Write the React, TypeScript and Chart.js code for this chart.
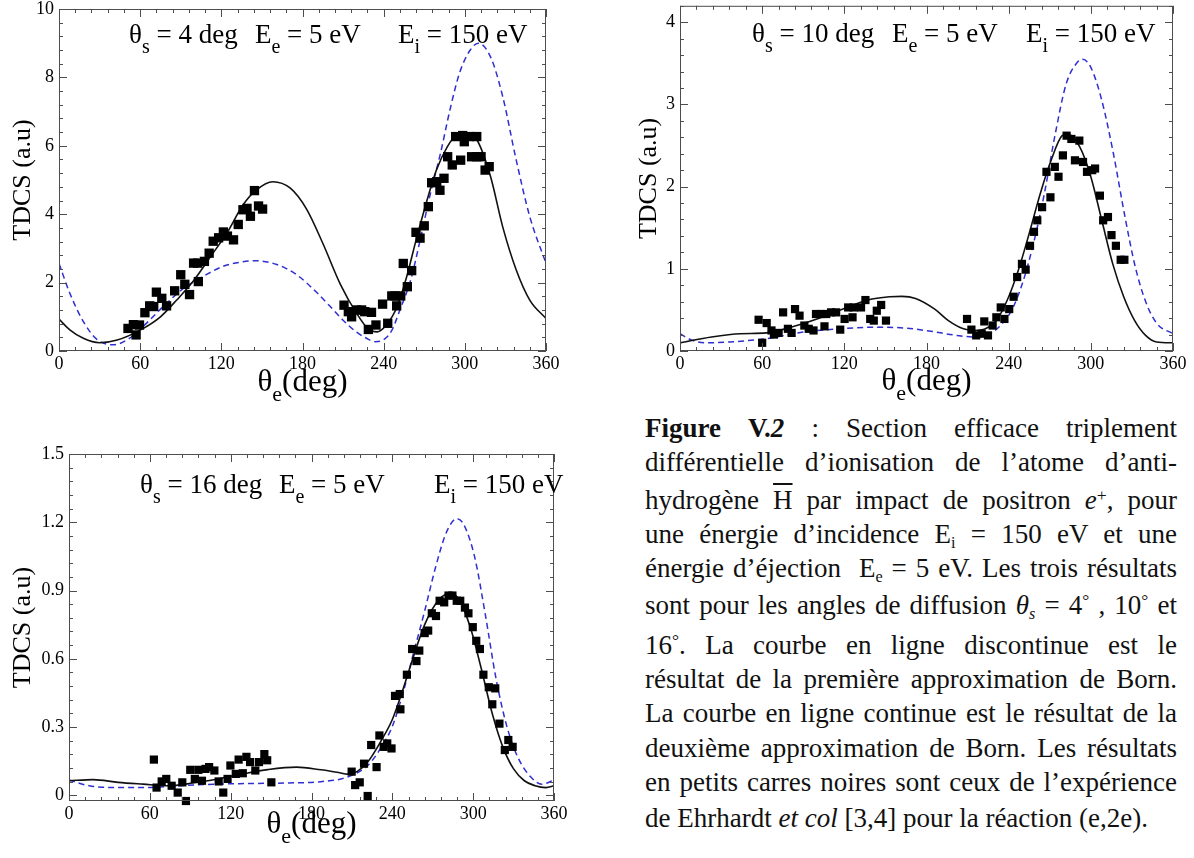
import React, { useEffect, useRef } from 'react';
import { Chart, registerables } from 'chart.js';

Chart.register(...registerables);

// ---------------- DATA ----------------
const X_TICKS = [0, 60, 120, 180, 240, 300, 360];

// Panel 1 : theta_s = 4 deg
const P1_Y_TICKS = [0, 2, 4, 6, 8, 10];
const P1_FBA_THETA = [0, 8, 18, 28, 40, 52, 62, 77, 92, 107, 121, 136, 145, 161, 176, 190, 200, 210, 220, 227, 234, 240, 246, 252, 260, 267, 274, 282, 289, 296, 304, 310, 319, 328, 338, 348, 360];
const P1_FBA_TDCS = [2.56, 1.69, 0.86, 0.34, 0.18, 0.37, 0.71, 1.3, 1.83, 2.19, 2.47, 2.61, 2.64, 2.53, 2.22, 1.73, 1.32, 0.9, 0.55, 0.38, 0.27, 0.33, 0.6, 1.2, 2.08, 3.25, 4.51, 5.78, 7.05, 8.12, 8.8, 9.0, 8.6, 7.44, 5.58, 3.93, 2.56];
const P1_SBA_THETA = [0, 8, 18, 30, 43, 60, 75, 87, 99, 112, 124, 136, 146, 158, 171, 183, 195, 208, 220, 228, 235, 242, 250, 257, 264, 272, 279, 287, 294, 301, 309, 319, 328, 338, 348, 360];
const P1_SBA_TDCS = [0.93, 0.62, 0.37, 0.24, 0.32, 0.61, 1.0, 1.49, 2.03, 2.76, 3.44, 4.27, 4.71, 4.95, 4.76, 4.15, 3.15, 1.95, 1.1, 0.67, 0.56, 0.76, 1.3, 2.17, 3.25, 4.4, 5.29, 5.97, 6.32, 6.38, 6.17, 5.1, 3.63, 2.37, 1.49, 0.95];
const P1_EXP_THETA = [51, 55, 57, 59.5, 63.5, 67, 70, 72, 76, 79.5, 85.5, 90, 93, 96.5, 99.5, 102.5, 103, 107.5, 111, 114, 118, 121.5, 124.5, 129, 132.5, 136, 139, 141.5, 144.5, 147.5, 150.5, 210.7, 213.9, 216.3, 220, 223.7, 226, 231, 228.7, 234.3, 239.2, 243, 246, 248.4, 252.6, 249.6, 254.5, 257.5, 260.7, 263.9, 266.9, 270, 273, 275.5, 279.2, 281.6, 284.6, 287.3, 290.7, 293.2, 296.9, 298.4, 299.6, 303.3, 305, 308.8, 308.8, 312, 315, 318];
const P1_EXP_TDCS = [0.66, 0.77, 0.47, 0.76, 1.12, 1.32, 1.3, 1.72, 1.54, 1.32, 1.76, 2.23, 1.95, 1.65, 2.57, 2.57, 2.03, 2.62, 2.86, 3.21, 3.31, 3.48, 3.36, 3.25, 3.7, 4.13, 4.17, 3.94, 4.69, 4.24, 4.15, 1.34, 1.15, 1.0, 1.2, 1.2, 1.15, 1.13, 0.63, 0.76, 1.37, 0.81, 1.61, 1.61, 1.61, 1.32, 2.56, 1.88, 2.35, 3.47, 3.3, 3.66, 4.22, 4.92, 4.95, 4.7, 5.05, 5.68, 5.44, 6.27, 5.58, 6.3, 6.12, 6.27, 5.68, 6.27, 5.68, 5.68, 5.29, 5.39];

// Panel 2 : theta_s = 10 deg
const P2_Y_TICKS = [0, 1, 2, 3, 4];
const P2_FBA_THETA = [0, 9, 20, 36, 63, 90, 116, 143, 164, 183, 202, 215, 226, 234, 242, 250, 258, 266, 274, 282, 290, 294, 300, 308, 316.5, 324.5, 332.5, 340.5, 348.5, 360];
const P2_FBA_TDCS = [0.21, 0.13, 0.1, 0.11, 0.15, 0.23, 0.27, 0.29, 0.28, 0.24, 0.19, 0.17, 0.21, 0.31, 0.49, 0.82, 1.3, 1.91, 2.64, 3.25, 3.51, 3.55, 3.45, 3.05, 2.4, 1.67, 1.02, 0.58, 0.33, 0.21];
const P2_SBA_THETA = [0, 23, 44, 63, 81, 100, 119, 137, 153, 162, 172, 186, 196, 207, 215, 223, 231, 239, 247, 255, 263, 271, 279, 283, 292, 300, 308, 316, 324, 332, 340, 348, 360];
const P2_SBA_TDCS = [0.1, 0.17, 0.21, 0.22, 0.29, 0.39, 0.51, 0.62, 0.66, 0.665, 0.64, 0.51, 0.37, 0.27, 0.25, 0.27, 0.37, 0.62, 0.98, 1.43, 1.91, 2.32, 2.62, 2.64, 2.48, 2.12, 1.59, 1.06, 0.66, 0.37, 0.19, 0.11, 0.1];
const P2_EXP_THETA = [57.4, 60, 63.3, 66.8, 68.6, 72, 75.3, 78.8, 81.5, 84, 87.3, 90.8, 94, 97.5, 99.3, 102.8, 105.5, 106.8, 110.3, 114, 117, 120.2, 122.8, 126, 126.9, 132.2, 135.4, 138.9, 141.5, 143.7, 146.9, 150.4, 209.6, 212.8, 216.3, 220.3, 222.2, 224.9, 228.3, 231, 234.2, 236.9, 240.4, 243.6, 246.2, 249.7, 252.4, 255.6, 258.5, 260.9, 264.4, 267.6, 270.5, 273.7, 276.4, 279.6, 282.3, 285.8, 288.4, 291.6, 294.3, 297.2, 301, 303.1, 306.6, 309, 312.5, 315.1, 318.3, 321.8, 324.5];
const P2_EXP_TDCS = [0.38, 0.1, 0.34, 0.25, 0.2, 0.22, 0.47, 0.27, 0.22, 0.51, 0.43, 0.31, 0.27, 0.25, 0.45, 0.45, 0.3, 0.45, 0.47, 0.47, 0.26, 0.39, 0.53, 0.41, 0.53, 0.53, 0.62, 0.39, 0.37, 0.49, 0.56, 0.37, 0.39, 0.26, 0.19, 0.21, 0.36, 0.19, 0.31, 0.41, 0.53, 0.39, 0.51, 0.66, 0.9, 1.06, 0.99, 1.28, 1.45, 1.59, 1.75, 2.18, 1.87, 2.24, 2.12, 2.38, 2.62, 2.58, 2.32, 2.56, 2.3, 2.18, 2.2, 2.22, 1.89, 1.59, 1.63, 1.41, 1.28, 1.11, 1.11];

// Panel 3 : theta_s = 16 deg
const P3_Y_TICKS = [0, 0.3, 0.6, 0.9, 1.2, 1.5];
const P3_FBA_THETA = [0, 15, 34, 55, 81.5, 108, 134, 161, 187, 206, 221.7, 232, 240, 248, 256, 264, 272, 280, 288, 293, 301, 309, 317, 325, 333, 343, 351, 360];
const P3_FBA_TDCS = [0.067, 0.042, 0.034, 0.034, 0.042, 0.049, 0.052, 0.054, 0.06, 0.079, 0.131, 0.213, 0.303, 0.452, 0.631, 0.81, 1.0, 1.154, 1.216, 1.19, 1.05, 0.795, 0.512, 0.303, 0.169, 0.079, 0.049, 0.067];
const P3_SBA_THETA = [0, 18, 36.5, 55, 73.5, 92, 110.6, 129, 147.6, 168.8, 187, 200, 207, 214, 221.7, 232, 240, 248, 256, 264, 272, 280, 284, 290, 298, 306, 314, 322, 330, 338, 346, 354, 360];
const P3_SBA_TDCS = [0.064, 0.069, 0.057, 0.049, 0.042, 0.054, 0.072, 0.094, 0.113, 0.124, 0.112, 0.1, 0.093, 0.105, 0.146, 0.243, 0.333, 0.467, 0.616, 0.75, 0.84, 0.885, 0.888, 0.855, 0.736, 0.557, 0.363, 0.213, 0.116, 0.064, 0.042, 0.034, 0.042];
const P3_EXP_THETA = [63, 65, 68.8, 72.2, 76.2, 80.7, 84.1, 86.8, 90, 93.4, 96, 98.7, 101.3, 104, 107.9, 111.1, 114.5, 117.7, 119.8, 123.8, 125.9, 129, 131.7, 134.4, 138.3, 141, 145, 147.1, 150.2, 209.8, 212.4, 215.8, 219, 221.7, 224.3, 228.3, 230.4, 233.6, 236.2, 239.4, 242, 245.5, 246, 250.8, 254.7, 257.9, 260, 264, 266.6, 269.3, 272.4, 275.1, 278.5, 281.7, 284.6, 287.8, 290.4, 293.9, 296.5, 299.7, 302.3, 305, 307.6, 311.6, 316.4, 314.2, 319.5, 323.5, 326.1, 329.3];
const P3_EXP_TDCS = [0.157, 0.034, 0.061, 0.072, 0.042, 0.012, 0.057, -0.025, 0.112, 0.072, 0.112, 0.064, 0.116, 0.124, 0.109, 0.061, 0.012, 0.072, 0.131, 0.094, 0.157, 0.097, 0.169, 0.146, 0.109, 0.146, 0.181, 0.154, 0.057, 0.104, 0.045, 0.057, 0.139, -0.003, 0.221, 0.124, 0.263, 0.213, 0.228, 0.206, 0.437, 0.445, 0.378, 0.53, 0.643, 0.59, 0.636, 0.713, 0.724, 0.8, 0.788, 0.855, 0.848, 0.878, 0.878, 0.855, 0.855, 0.825, 0.8, 0.739, 0.679, 0.643, 0.53, 0.475, 0.47, 0.4, 0.315, 0.199, 0.243, 0.213];

// ---------------- STYLE / LAYOUT ----------------
const SERIF = '"Liberation Serif"';
const BLUE = '#2f2fd2';

type Part = { t: string; sub?: boolean };

const pts = (xs: number[], ys: number[]) => xs.map((x, i) => ({ x, y: ys[i] }));

function richWidth(ctx: CanvasRenderingContext2D, parts: Part[], size: number, subSize: number) {
  let w = 0;
  for (const p of parts) {
    ctx.font = `${p.sub ? subSize : size}px ${SERIF}`;
    w += ctx.measureText(p.t).width;
  }
  return w;
}

function drawRich(ctx: CanvasRenderingContext2D, x: number, y: number, parts: Part[], size: number, subSize: number, drop: number) {
  let cx = x;
  for (const p of parts) {
    ctx.font = `${p.sub ? subSize : size}px ${SERIF}`;
    ctx.fillText(p.t, cx, p.sub ? y + drop : y);
    cx += ctx.measureText(p.t).width;
  }
}

const X_TITLE: Part[] = [{ t: 'θ' }, { t: 'e', sub: true }, { t: '(deg)' }];
const Y_TITLE = 'TDCS (a.u)';

const decorPlugin = {
  id: 'decor',
  afterDraw(chart: any, _args: any, opts: any) {
    const ctx: CanvasRenderingContext2D = chart.ctx;
    const a = chart.chartArea;
    const xs = chart.scales.x;
    const ys = chart.scales.y;
    ctx.save();
    ctx.strokeStyle = '#4d4d4d';
    ctx.lineWidth = 1;
    ctx.beginPath();
    for (let i = 0; ; i++) {
      const v = i * opts.xMinor;
      if (v > xs.max + 1e-6) break;
      const px = Math.round(xs.getPixelForValue(v)) + 0.5;
      const r = v / opts.xMajor;
      const len = Math.abs(r - Math.round(r)) < 1e-6 ? 8 : 4;
      ctx.moveTo(px, a.bottom); ctx.lineTo(px, a.bottom - len);
      ctx.moveTo(px, a.top); ctx.lineTo(px, a.top + len);
    }
    const start = Math.ceil(ys.min / opts.yMinor - 1e-6);
    for (let i = start; ; i++) {
      const v = i * opts.yMinor;
      if (v > ys.max + 1e-6) break;
      const py = Math.round(ys.getPixelForValue(v)) + 0.5;
      const r = v / opts.yMajor;
      const len = Math.abs(r - Math.round(r)) < 1e-6 ? 8 : 4;
      ctx.moveTo(a.left, py); ctx.lineTo(a.left + len, py);
      ctx.moveTo(a.right, py); ctx.lineTo(a.right - len, py);
    }
    ctx.stroke();
    ctx.strokeRect(a.left + 0.5, a.top + 0.5, a.right - a.left - 1, a.bottom - a.top - 1);

    ctx.fillStyle = '#000';
    ctx.textAlign = 'left';
    ctx.textBaseline = 'alphabetic';
    for (const seg of opts.annotation) {
      drawRich(ctx, seg.x, opts.annotY, seg.parts, 27, 20, 10);
    }
    const w = richWidth(ctx, X_TITLE, 31, 22);
    drawRich(ctx, (a.left + a.right) / 2 - w / 2, opts.xTitleY, X_TITLE, 31, 22, 10);

    ctx.translate(opts.yTitleX, (a.top + a.bottom) / 2);
    ctx.rotate(-Math.PI / 2);
    ctx.font = `26px ${SERIF}`;
    ctx.textAlign = 'center';
    ctx.textBaseline = 'middle';
    ctx.fillText(Y_TITLE, 0, 0);
    ctx.restore();
  },
};

type PanelCfg = {
  box: { left: number; top: number; w: number; h: number };
  area: { left: number; right: number; top: number; bottom: number };
  yMin: number; yMax: number; yTicks: number[]; yMinor: number; yMajor: number;
  fba: { x: number; y: number }[];
  sba: { x: number; y: number }[];
  exp: { x: number; y: number }[];
  pointR: number;
  annotation: { x: number; parts: Part[] }[];
  annotY: number; xTitleY: number; yTitleX: number;
};

const PANELS: PanelCfg[] = [
  {
    box: { left: 0, top: 0, w: 600, h: 410 },
    area: { left: 59, right: 546, top: 9, bottom: 351 },
    yMin: 0, yMax: 10, yTicks: P1_Y_TICKS, yMinor: 0.4, yMajor: 2,
    fba: pts(P1_FBA_THETA, P1_FBA_TDCS), sba: pts(P1_SBA_THETA, P1_SBA_TDCS), exp: pts(P1_EXP_THETA, P1_EXP_TDCS),
    pointR: 6.6,
    annotation: [
      { x: 129, parts: [{ t: 'θ' }, { t: 's', sub: true }, { t: ' = 4 deg' }] },
      { x: 255, parts: [{ t: 'E' }, { t: 'e', sub: true }, { t: ' = 5 eV' }] },
      { x: 398, parts: [{ t: 'E' }, { t: 'i', sub: true }, { t: ' = 150 eV' }] },
    ],
    annotY: 43, xTitleY: 391, yTitleX: 23,
  },
  {
    box: { left: 620, top: 0, w: 574, h: 410 },
    area: { left: 60, right: 553, top: 5, bottom: 351 },
    yMin: 0, yMax: 4.2, yTicks: P2_Y_TICKS, yMinor: 0.2, yMajor: 1,
    fba: pts(P2_FBA_THETA, P2_FBA_TDCS), sba: pts(P2_SBA_THETA, P2_SBA_TDCS), exp: pts(P2_EXP_THETA, P2_EXP_TDCS),
    pointR: 5.8,
    annotation: [
      { x: 132, parts: [{ t: 'θ' }, { t: 's', sub: true }, { t: ' = 10 deg' }] },
      { x: 272, parts: [{ t: 'E' }, { t: 'e', sub: true }, { t: ' = 5 eV' }] },
      { x: 406, parts: [{ t: 'E' }, { t: 'i', sub: true }, { t: ' = 150 eV' }] },
    ],
    annotY: 42, xTitleY: 390, yTitleX: 29,
  },
  {
    box: { left: 0, top: 440, w: 600, h: 418 },
    area: { left: 69, right: 554, top: 14, bottom: 361 },
    yMin: -0.025, yMax: 1.5, yTicks: P3_Y_TICKS, yMinor: 0.06, yMajor: 0.3,
    fba: pts(P3_FBA_THETA, P3_FBA_TDCS), sba: pts(P3_SBA_THETA, P3_SBA_TDCS), exp: pts(P3_EXP_THETA, P3_EXP_TDCS),
    pointR: 5.8,
    annotation: [
      { x: 140, parts: [{ t: 'θ' }, { t: 's', sub: true }, { t: ' = 16 deg' }] },
      { x: 279, parts: [{ t: 'E' }, { t: 'e', sub: true }, { t: ' = 5 eV' }] },
      { x: 434, parts: [{ t: 'E' }, { t: 'i', sub: true }, { t: ' = 150 eV' }] },
    ],
    annotY: 53, xTitleY: 393, yTitleX: 23,
  },
];

function Panel({ cfg }: { cfg: PanelCfg }) {
  const ref = useRef<HTMLCanvasElement>(null);
  useEffect(() => {
    const { box, area } = cfg;
    const tickFont = { family: SERIF, size: 18 };
    const chart = new Chart(ref.current as HTMLCanvasElement, {
      type: 'line',
      data: {
        datasets: [
          {
            data: cfg.exp, showLine: false, pointStyle: 'rect', pointRadius: cfg.pointR,
            pointBackgroundColor: '#000', pointBorderColor: '#000', pointBorderWidth: 0,
            clip: false as any, order: 0,
          } as any,
          {
            data: cfg.sba, borderColor: '#111', borderWidth: 1.6, pointRadius: 0,
            cubicInterpolationMode: 'monotone', fill: false, order: 1,
          } as any,
          {
            data: cfg.fba, borderColor: BLUE, borderWidth: 1.5, borderDash: [6, 4], pointRadius: 0,
            cubicInterpolationMode: 'monotone', fill: false, order: 2,
          } as any,
        ],
      },
      options: {
        responsive: false,
        animation: false,
        devicePixelRatio: 1,
        events: [],
        layout: { padding: { left: 0, top: area.top, right: box.w - area.right, bottom: 0 } },
        plugins: {
          legend: { display: false },
          tooltip: { enabled: false },
          decor: {
            xMinor: 12, xMajor: 60, yMinor: cfg.yMinor, yMajor: cfg.yMajor,
            annotation: cfg.annotation, annotY: cfg.annotY, xTitleY: cfg.xTitleY, yTitleX: cfg.yTitleX,
          },
        } as any,
        scales: {
          x: {
            type: 'linear', min: 0, max: 360,
            grid: { display: false, drawTicks: false },
            border: { display: false },
            ticks: { font: tickFont, color: '#000', padding: 2, maxRotation: 0, autoSkip: false, callback: (v: any) => String(v) },
            afterBuildTicks: (s: any) => { s.ticks = X_TICKS.map((v) => ({ value: v })); },
            afterFit: (s: any) => { s.height = box.h - area.bottom; s.paddingLeft = 0; s.paddingRight = 0; },
          },
          y: {
            type: 'linear', min: cfg.yMin, max: cfg.yMax,
            grid: { display: false, drawTicks: false },
            border: { display: false },
            ticks: { font: tickFont, color: '#000', padding: 5, autoSkip: false, callback: (v: any) => String(v) },
            afterBuildTicks: (s: any) => { s.ticks = cfg.yTicks.map((v) => ({ value: v })); },
            afterFit: (s: any) => { s.width = area.left; s.paddingTop = 0; s.paddingBottom = 0; },
          },
        } as any,
      },
      plugins: [decorPlugin],
    });
    return () => chart.destroy();
  }, [cfg]);
  return (
    <canvas
      ref={ref}
      width={cfg.box.w}
      height={cfg.box.h}
      style={{ position: 'absolute', left: cfg.box.left, top: cfg.box.top, width: cfg.box.w, height: cfg.box.h }}
    />
  );
}

const subStyle: React.CSSProperties = { fontSize: '0.6em', position: 'relative', top: '0.3em', lineHeight: 0 };
const supStyle: React.CSSProperties = { fontSize: '0.65em', position: 'relative', top: '-0.45em', lineHeight: 0 };

const CAPTION_BASELINES = [438, 472, 510, 544, 578, 615, 655, 689, 723, 758, 792, 828];

function Caption() {
  const size = 27;
  const off = size * (0.891 - 0.0535);
  const lines: React.ReactNode[] = [
    <><b>Figure</b> <b>V.<i>2</i></b> : Section efficace triplement</>,
    <>différentielle d’ionisation de l’atome d’anti-</>,
    <>hydrogène <span style={{ textDecoration: 'overline' }}>H</span> par impact de positron <i>e</i><span style={supStyle}>+</span>, pour</>,
    <>une énergie d’incidence E<span style={subStyle}>i</span> = 150 eV et une</>,
    <>énergie d’éjection&nbsp; E<span style={subStyle}>e</span> = 5 eV. Les trois résultats</>,
    <>sont pour les angles de diffusion <i>θ<span style={subStyle}>s</span></i> = 4<span style={supStyle}>°</span> , 10<span style={supStyle}>°</span> et</>,
    <>16<span style={supStyle}>°</span>. La courbe en ligne discontinue est le</>,
    <>résultat de la première approximation de Born.</>,
    <>La courbe en ligne continue est le résultat de la</>,
    <>deuxième approximation de Born. Les résultats</>,
    <>en petits carres noires sont ceux de l’expérience</>,
    <>de Ehrhardt <i>et col</i> [3,4] pour la réaction (e,2e).</>,
  ];
  return (
    <>
      {lines.map((ln, i) => (
        <div
          key={i}
          style={{
            position: 'absolute',
            left: 645,
            width: 532,
            top: CAPTION_BASELINES[i] - off,
            fontFamily: SERIF,
            fontSize: size,
            lineHeight: `${size}px`,
            color: '#111',
            textAlign: 'justify',
            textAlignLast: i === lines.length - 1 ? 'left' : 'justify',
          } as React.CSSProperties}
        >
          {ln}
        </div>
      ))}
    </>
  );
}

export default function App() {
  return (
    <div style={{ position: 'absolute', left: 0, top: 0, width: 1194, height: 858, background: '#fff', overflow: 'hidden' }}>
      {PANELS.map((p, i) => <Panel key={i} cfg={p} />)}
      <Caption />
    </div>
  );
}
